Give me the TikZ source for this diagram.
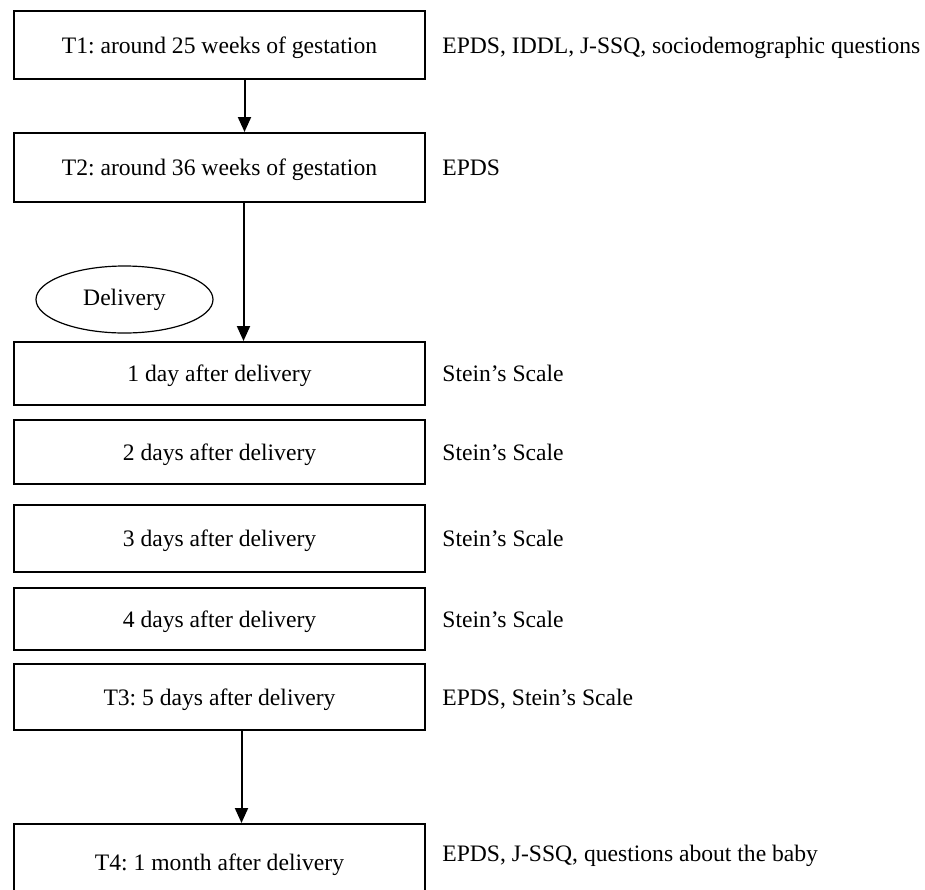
\documentclass[tikz,border=0pt]{standalone}
\usepackage{fontspec}
\setmainfont{Liberation Serif}
\usetikzlibrary{positioning,shapes.geometric,arrows.meta}
\frenchspacing

\tikzset{
  stage/.style={draw, line width=1pt, minimum width=205.5pt, minimum height=33pt,
    inner sep=0pt, text height=9.5pt, text depth=1.5pt},
  tool/.style={inner sep=0pt, text height=9.5pt, text depth=1.5pt},
  arr/.style={line width=1pt, -{Triangle[length=7.5pt,width=6.5pt]}},
}

\begin{document}
\begin{tikzpicture}[x=0.5pt, y=-0.5pt, font=\fontsize{11.8}{14}\selectfont]
  \useasboundingbox (0,0) rectangle (925,889);
  % time points
  \node[stage, minimum height=34pt] (t1) at (219.5,45) {T1: around 25 weeks of gestation};
  \node[stage, minimum height=34.5pt] (t2) at (219.5,167.5) {T2: around 36 weeks of gestation};
  \node[stage, minimum height=31.5pt] (d1) at (219.5,373.5) {1 day after delivery};
  \node[stage, minimum height=32pt] (d2) at (219.5,452) {2 days after delivery};
  \node[stage, minimum height=33.5pt] (d3) at (219.5,538.5) {3 days after delivery};
  \node[stage, minimum height=31pt] (d4) at (219.5,619) {4 days after delivery};
  \node[stage] (t3) at (219.5,697) {T3: 5 days after delivery};
  \node[stage, minimum height=38pt] (t4) at (219.5,862) {T4: 1 month after delivery};
  \node[draw, ellipse, line width=0.6pt, minimum width=88.5pt, minimum height=33.5pt] (birth) at (124.5,299.5) {Delivery};

  % measures
  \node[tool, right=8pt of t1] (m1) {EPDS, IDDL, J-SSQ, sociodemographic questions};
  \node[tool, right=8pt of t2] (m2) {EPDS};
  \node[tool, right=8pt of d1] (s1) {Stein’s Scale};
  \node[tool, right=8pt of d2] (s2) {Stein’s Scale};
  \node[tool, right=8pt of d3] (s3) {Stein’s Scale};
  \node[tool, right=8pt of d4] (s4) {Stein’s Scale};
  \node[tool, right=8pt of t3] (m3) {EPDS, Stein’s Scale};
  \node[tool, right=8pt of t4, yshift=4.5pt] (m4) {EPDS, J-SSQ, questions about the baby};

  \draw[arr] ([xshift=12.5pt]t1.south) -- ([xshift=12.5pt]t2.north);
  \draw[arr] ([xshift=12pt]t2.south) -- ([xshift=12pt]d1.north);
  \draw[arr] ([xshift=11pt]t3.south) -- ([xshift=11pt]t4.north);
\end{tikzpicture}
\end{document}
